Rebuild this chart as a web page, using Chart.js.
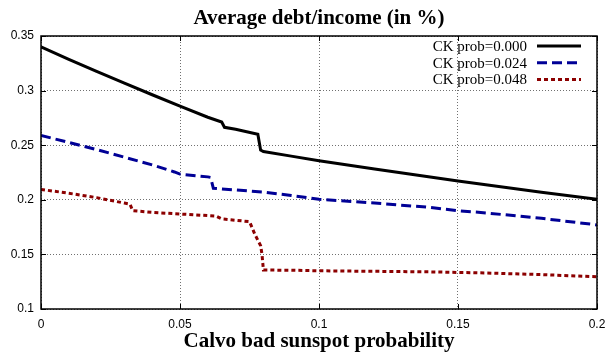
<!DOCTYPE html>
<html>
<head>
<meta charset="utf-8">
<script src="https://cdn.jsdelivr.net/npm/chart.js@4"></script>
<style>
  html, body { margin: 0; padding: 0; background: #fff; }
  #wrap { width: 606px; height: 357px; }
</style>
</head>
<body>
<div id="wrap"><canvas id="chart" width="606" height="357"></canvas></div>
<script>
// series
const chartTitle = "Average debt/income (in %)";
const seriesNames = ["CK prob=0.000", "CK prob=0.024", "CK prob=0.048"];

const xBlack = [0, 0.01, 0.02, 0.03, 0.04, 0.05, 0.06, 0.065, 0.066, 0.07, 0.078, 0.079, 0.08, 0.09, 0.1, 0.12, 0.14, 0.15, 0.16, 0.18, 0.2];
const yBlack = [0.340, 0.3286, 0.3176, 0.3068, 0.2962, 0.2858, 0.2756, 0.2712, 0.2664, 0.2646, 0.2600, 0.2455, 0.2442, 0.2400, 0.2358, 0.2283, 0.2209, 0.2172, 0.2138, 0.2070, 0.2005];

const xBlue = [0, 0.01, 0.02, 0.03, 0.04, 0.048, 0.05, 0.06, 0.061, 0.062, 0.07, 0.08, 0.09, 0.1, 0.12, 0.14, 0.15, 0.16, 0.18, 0.2];
const yBlue = [0.259, 0.2525, 0.246, 0.239, 0.232, 0.2255, 0.2235, 0.221, 0.2205, 0.2105, 0.209, 0.207, 0.204, 0.2005, 0.197, 0.193, 0.190, 0.188, 0.183, 0.177];

const xRed = [0, 0.01, 0.02, 0.03, 0.032, 0.033, 0.04, 0.05, 0.06, 0.063, 0.065, 0.075, 0.077, 0.079, 0.0795, 0.08, 0.09, 0.1, 0.12, 0.14, 0.15, 0.16, 0.18, 0.2];
const yRed = [0.2095, 0.206, 0.202, 0.197, 0.196, 0.190, 0.1885, 0.187, 0.1855, 0.185, 0.1825, 0.180, 0.168, 0.158, 0.150, 0.1357, 0.1355, 0.135, 0.1345, 0.134, 0.1335, 0.133, 0.1315, 0.1295];

const xTicks = [0, 0.05, 0.1, 0.15, 0.2];
const yTicks = [0.1, 0.15, 0.2, 0.25, 0.3, 0.35];

const toPoints = (xs, ys) => xs.map((x, i) => ({ x: x, y: ys[i] }));

// title, frame, inner tick marks and the legend (gnuplot style)
const framePlugin = {
  id: "frame",
  afterDraw(chart) {
    const ctx = chart.ctx;
    const a = chart.chartArea;
    const xs = chart.scales.x, ys = chart.scales.y;
    ctx.save();
    ctx.strokeStyle = "#000";
    ctx.lineWidth = 1.5;
    ctx.setLineDash([]);
    ctx.strokeRect(a.left, a.top, a.right - a.left, a.bottom - a.top);
    ctx.lineWidth = 1;
    ctx.beginPath();
    xTicks.forEach((v) => {
      const px = Math.round(xs.getPixelForValue(v)) + 0.5;
      ctx.moveTo(px, a.bottom); ctx.lineTo(px, a.bottom - 5);
      ctx.moveTo(px, a.top); ctx.lineTo(px, a.top + 5);
    });
    yTicks.forEach((v) => {
      const py = Math.round(ys.getPixelForValue(v)) + 0.5;
      ctx.moveTo(a.left, py); ctx.lineTo(a.left + 5, py);
      ctx.moveTo(a.right, py); ctx.lineTo(a.right - 5, py);
    });
    ctx.stroke();

    // title
    ctx.fillStyle = "#000";
    ctx.font = "bold 21px 'Liberation Serif', serif";
    ctx.textAlign = "center";
    ctx.textBaseline = "middle";
    ctx.fillText(chartTitle, (a.left + a.right) / 2, 19);

    // legend
    ctx.font = "15px 'Liberation Serif', serif";
    ctx.textAlign = "right";
    chart.data.datasets.forEach((ds, i) => {
      const y = a.top + 10 + i * 16.7;
      ctx.fillStyle = "#000";
      ctx.fillText(ds.label, a.left + 486, y + 1);
      ctx.strokeStyle = ds.borderColor;
      ctx.lineWidth = ds.borderWidth;
      ctx.setLineDash(ds.borderDash || []);
      ctx.beginPath();
      ctx.moveTo(a.left + 496, y);
      ctx.lineTo(a.left + 540, y);
      ctx.stroke();
    });
    ctx.restore();
  },
};

const gridOpts = {
  color: "#707070",
  lineWidth: 1,
  drawTicks: false,
  borderDash: [1, 2],
};

new Chart(document.getElementById("chart"), {
  type: "line",
  data: {
    datasets: [
      {
        label: seriesNames[0],
        data: toPoints(xBlack, yBlack),
        borderColor: "#000000",
        borderWidth: 3,
      },
      {
        label: seriesNames[1],
        data: toPoints(xBlue, yBlue),
        borderColor: "#000096",
        borderWidth: 3,
        borderDash: [10, 5],
      },
      {
        label: seriesNames[2],
        data: toPoints(xRed, yRed),
        borderColor: "#8c0000",
        borderWidth: 3,
        borderDash: [4, 3],
      },
    ],
  },
  options: {
    responsive: false,
    animation: false,
    events: [],
    elements: { point: { radius: 0 }, line: { tension: 0, borderCapStyle: "butt" } },
    layout: { padding: { left: 0, right: 9, top: 36, bottom: 0 } },
    plugins: {
      legend: { display: false },
      tooltip: { enabled: false },
      title: { display: false },
    },
    scales: {
      x: {
        type: "linear",
        min: 0,
        max: 0.2,
        afterBuildTicks: (s) => { s.ticks = xTicks.map((v) => ({ value: v })); },
        afterFit: (s) => { s.height = 48; s.paddingLeft = 0; s.paddingRight = 0; },
        grid: { ...gridOpts },
        border: { display: false, dash: [1, 2] },
        ticks: {
          color: "#000",
          padding: 8,
          maxRotation: 0,
          font: { family: "'Liberation Sans', sans-serif", size: 12 },
          callback: (v) => String(v),
        },
        title: {
          display: true,
          text: "Calvo bad sunspot probability",
          color: "#000",
          font: { family: "'Liberation Serif', serif", size: 21, weight: "bold" },
          padding: { top: 0, bottom: 2.4 },
        },
      },
      y: {
        type: "linear",
        min: 0.1,
        max: 0.35,
        afterBuildTicks: (s) => { s.ticks = yTicks.map((v) => ({ value: v })); },
        afterFit: (s) => { s.width = 41; s.paddingTop = 0; s.paddingBottom = 0; },
        grid: { ...gridOpts },
        border: { display: false, dash: [1, 2] },
        ticks: {
          color: "#000",
          padding: 7,
          font: { family: "'Liberation Sans', sans-serif", size: 12 },
          callback: (v) => String(v),
        },
      },
    },
  },
  plugins: [framePlugin],
});
</script>
</body>
</html>
